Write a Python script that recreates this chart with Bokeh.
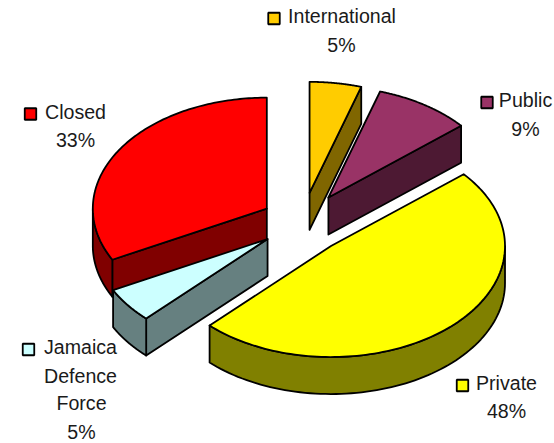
import numpy as np
from bokeh.plotting import figure
from bokeh.models import Range1d
from bokeh.core.properties import value
from bokeh.embed import file_html
from bokeh.resources import INLINE

# data (clockwise from 12 o'clock); shares
categories = ["International", "Public", "Private", "Jamaica Defence Force", "Closed"]
shares = [4.8, 9.0, 48.49, 5.1, 32.61]
top_colors = ["#FFCC00", "#993366", "#FFFF00", "#CCFFFF", "#FF0000"]
side_colors = ["#806600", "#4D1933", "#808000", "#668080", "#800000"]

# layout (reference pixel space)
explode_x = [0.27, 0.27, 0.24, 0.25, 0.24]
explode_y = [0.27, 0.27, 0.29, 0.25, 0.24]
draw_order = [0, 1, 4, 3, 2]
cx, cy, rx, ry, depth = 302.0, 222.0, 174.0, 111.0, 37.0
label_lines = [["International", "5%"], ["Public", "9%"], ["Private", "48%"],
               ["Jamaica", "Defence", "Force", "5%"], ["Closed", "33%"]]
label_x = [[341.5, 341], [525, 525], [506, 506], [80, 80, 81, 81], [75, 75]]
label_base = [[15, 44], [99, 128], [382, 410], [346, 375, 402, 431], [111, 139]]
key_x = [273.5, 486.5, 462, 28, 30]
key_y = [18, 102, 385, 349, 113.5]

W, H = 554, 443
p = figure(width=W, height=H, output_backend="svg", toolbar_location=None,
           x_range=Range1d(0, W), y_range=Range1d(H, 0),
           min_border=0, outline_line_color=None)
p.axis.visible = False
p.grid.visible = False

edges = np.cumsum([0] + shares) / sum(shares) * 360.0


def ex(ox, t):
    return ox + rx * np.sin(np.radians(t))


def ey(oy, t):
    return oy - ry * np.cos(np.radians(t))


LW = 1.8
for i in draw_order:
    t0, t1 = edges[i], edges[i + 1]
    mid = (t0 + t1) / 2
    ax = cx + explode_x[i] * rx * np.sin(np.radians(mid))
    ay = cy - explode_y[i] * ry * np.cos(np.radians(mid))
    # cut faces turned towards the viewer
    for t, facing in ((t0, np.sin(np.radians(t0)) < -1e-9), (t1, np.sin(np.radians(t1)) > 1e-9)):
        if facing:
            px, py = ex(ax, t), ey(ay, t)
            p.patch([ax, px, px, ax], [ay, py, py + depth, ay + depth],
                    fill_color=side_colors[i], line_color="black", line_width=LW, line_join="round")
    # outer wall (front half of the rim only)
    a, b = max(t0, 90.0), min(t1, 270.0)
    if b > a:
        ts = np.linspace(a, b, 80)
        xs = ex(ax, ts)
        ys = ey(ay, ts)
        p.patch(np.r_[xs, xs[::-1]], np.r_[ys, ys[::-1] + depth],
                fill_color=side_colors[i], line_color="black", line_width=LW, line_join="round")
    # top face
    ts = np.linspace(t0, t1, 120)
    p.patch(np.r_[ax, ex(ax, ts)], np.r_[ay, ey(ay, ts)],
            fill_color=top_colors[i], line_color="black", line_width=LW, line_join="round")

p.rect(key_x, key_y, width=11.5, height=11.5, fill_color=top_colors,
       line_color="black", line_width=1.8)

tx, ty, tt = [], [], []
for lines, xs_, ys_ in zip(label_lines, label_x, label_base):
    tx += xs_
    ty += ys_
    tt += lines
p.text(tx, ty, text=tt, text_align="center", text_baseline="alphabetic",
       text_font=value("Liberation Sans"), text_font_size="19.6px", text_color="#1a1a1a")

open("out.html", "w").write(file_html(p, INLINE))
